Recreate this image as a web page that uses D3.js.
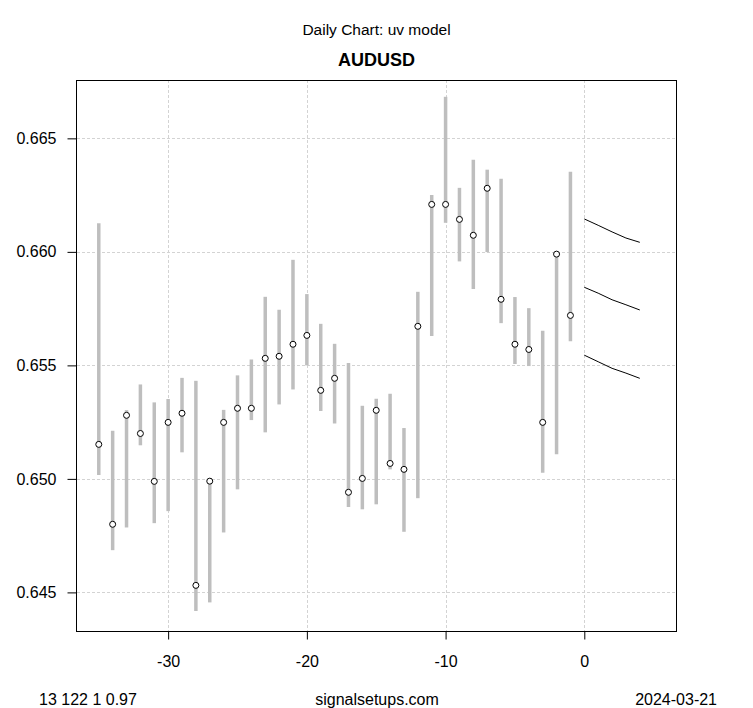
<!DOCTYPE html>
<html>
<head>
<meta charset="utf-8">
<script src="https://cdn.jsdelivr.net/npm/d3@7"></script>
<style>
  body { margin: 0; background: #fff; }
  svg { display: block; font-family: "Liberation Sans", Arial, sans-serif; }
</style>
</head>
<body>
<svg id="chart" width="753" height="708"></svg>
<script>
// ---- data ----
const days = [-35,-34,-33,-32,-31,-30,-29,-28,-27,-26,-25,-24,-23,-22,-21,-20,-19,-18,-17,-16,-15,-14,-13,-12,-11,-10,-9,-8,-7,-6,-5,-4,-3,-2,-1];
const closes = [0.65152,0.64800,0.65280,0.65200,0.64989,0.65249,0.65289,0.64531,0.64990,0.65249,0.65311,0.65311,0.65531,0.65540,0.65593,0.65632,0.65390,0.65443,0.64941,0.65002,0.65302,0.65068,0.65042,0.65672,0.66209,0.66209,0.66143,0.66073,0.66280,0.65791,0.65593,0.65570,0.65249,0.65990,0.65720];
const lows = [0.65017,0.64686,0.64786,0.65148,0.64805,0.64858,0.65117,0.64418,0.64456,0.64764,0.64954,0.65259,0.65205,0.65328,0.65394,0.65500,0.65299,0.65244,0.64876,0.64866,0.64888,0.65042,0.64767,0.64915,0.65629,0.66128,0.65958,0.65836,0.65999,0.65686,0.65506,0.65497,0.65027,0.65109,0.65606];
const highs = [0.66126,0.65212,0.65303,0.65416,0.65337,0.65352,0.65445,0.65432,0.64995,0.65304,0.65456,0.65526,0.65802,0.65745,0.65965,0.65814,0.65683,0.65595,0.65511,0.65322,0.65353,0.65375,0.65224,0.65824,0.66250,0.66683,0.66282,0.66406,0.66362,0.66322,0.65801,0.65752,0.65652,0.65990,0.66353];
const fcDays = [0,1,2,3,4];
const fcUpper = [0.66145,0.66117,0.66088,0.66061,0.66042];
const fcMid = [0.65844,0.65818,0.65789,0.65767,0.65744];
const fcLower = [0.65545,0.65516,0.65487,0.65466,0.65443];
const xTicks = [-30,-20,-10,0];
const yTicks = [0.645,0.650,0.655,0.660,0.665];
const title = "Daily Chart: uv model";
const symbol = "AUDUSD";
const footLeft = "13 122 1 0.97";
const footMid = "signalsetups.com";
const footRight = "2024-03-21";

// ---- layout ----
const svg = d3.select("#chart");
const L = 77, R = 676, T = 80, B = 631;
const x = d3.scaleLinear().domain([-36.57, 6.61]).range([L, R]);
const y = d3.scaleLinear().domain([0.64330, 0.66757]).range([B, T]);

// grid
const grid = svg.append("g").attr("stroke", "#d3d3d3").attr("stroke-dasharray", "3,2").attr("stroke-width", 1);
grid.selectAll(".gx").data(xTicks).enter().append("line")
  .attr("x1", d => Math.round(x(d)) + 0.5).attr("x2", d => Math.round(x(d)) + 0.5)
  .attr("y1", T).attr("y2", B);
grid.selectAll(".gy").data(yTicks).enter().append("line")
  .attr("y1", d => Math.round(y(d)) + 0.5).attr("y2", d => Math.round(y(d)) + 0.5)
  .attr("x1", L).attr("x2", R);

// bars
const idx = d3.range(days.length);
svg.append("g").selectAll("line").data(idx).enter().append("line")
  .attr("x1", i => x(days[i])).attr("x2", i => x(days[i]))
  .attr("y1", i => y(lows[i])).attr("y2", i => y(highs[i]))
  .attr("stroke", "#bebebe").attr("stroke-width", 3.5);

// points
svg.append("g").selectAll("circle").data(idx).enter().append("circle")
  .attr("cx", i => x(days[i])).attr("cy", i => y(closes[i]))
  .attr("r", 3).attr("fill", "#fff").attr("stroke", "#000").attr("stroke-width", 1);

// forecast lines
const line = d3.line().x((d, i) => x(fcDays[i])).y(d => y(d));
[fcUpper, fcMid, fcLower].forEach(s => {
  svg.append("path").datum(s).attr("d", line)
    .attr("fill", "none").attr("stroke", "#000").attr("stroke-width", 1);
});

// box
svg.append("rect").attr("x", L - 0.5).attr("y", T + 0.5).attr("width", R - L + 1).attr("height", B - T)
  .attr("fill", "none").attr("stroke", "#000").attr("stroke-width", 1);

// axes
const yAxis = svg.append("g").attr("transform", `translate(${L - 0.5},0)`)
  .call(d3.axisLeft(y).tickValues(yTicks).tickFormat(d3.format(".3f")).tickSize(9).tickPadding(11));
const xAxis = svg.append("g").attr("transform", `translate(0,${B + 0.5})`)
  .call(d3.axisBottom(x).tickValues(xTicks).tickFormat(d3.format("d")).tickSize(8).tickPadding(16));
[yAxis, xAxis].forEach(a => {
  a.select(".domain").remove();
  a.selectAll("text").attr("font-size", 16).attr("fill", "#000")
    .attr("font-family", '"Liberation Sans", Arial, sans-serif');
  a.selectAll("line").attr("stroke", "#000");
});
xAxis.selectAll("text").text(d => d < 0 ? "-" + Math.abs(d) : d);

// titles
svg.append("text").attr("x", 376.5).attr("y", 34.5).attr("text-anchor", "middle")
  .attr("font-size", 15.5).text(title);
svg.append("text").attr("x", 376.5).attr("y", 65.5).attr("text-anchor", "middle")
  .attr("font-size", 18).attr("font-weight", "bold").text(symbol);

// footer
svg.append("text").attr("x", 39).attr("y", 705).attr("font-size", 16).text(footLeft);
svg.append("text").attr("x", 377).attr("y", 705).attr("text-anchor", "middle").attr("font-size", 16).text(footMid);
svg.append("text").attr("x", 717).attr("y", 705).attr("text-anchor", "end").attr("font-size", 16).text(footRight);
</script>
</body>
</html>
